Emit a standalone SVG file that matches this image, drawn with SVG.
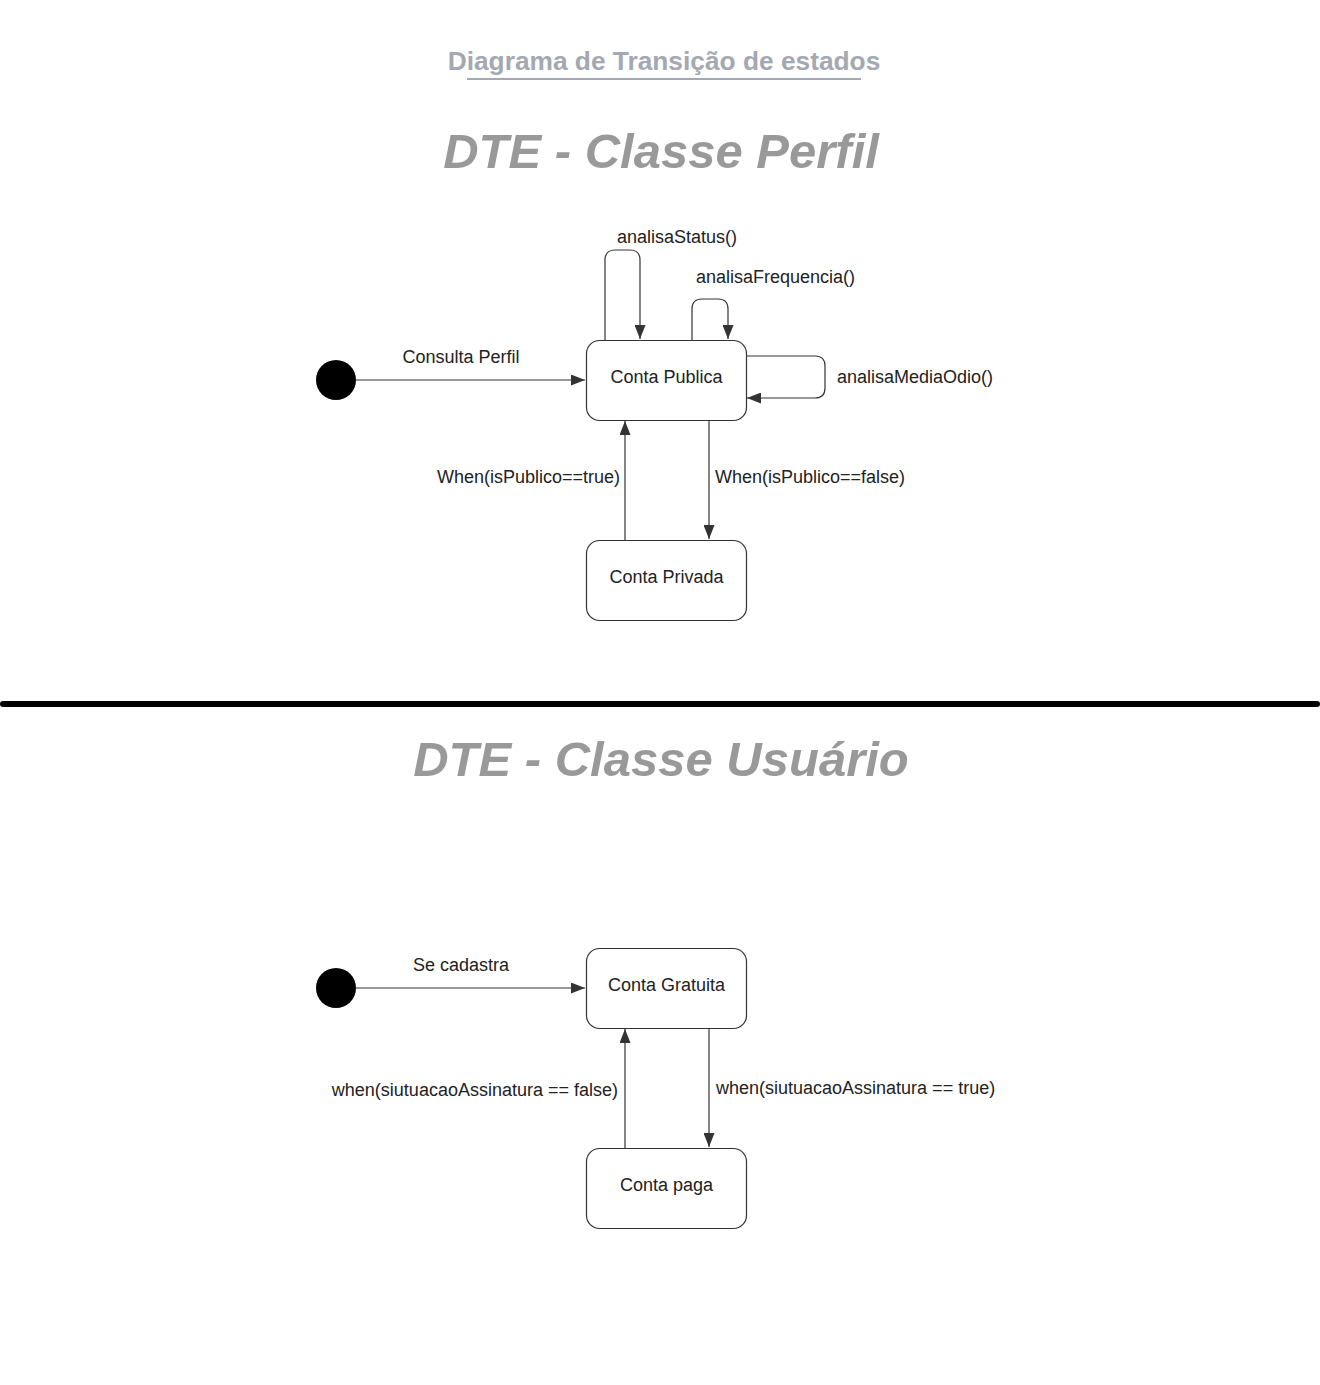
<svg xmlns="http://www.w3.org/2000/svg" width="1320" height="1385" viewBox="0 0 1320 1385">
<defs>
<marker id="arr" markerWidth="14" markerHeight="11" refX="14" refY="5.5" orient="auto" markerUnits="userSpaceOnUse">
<path d="M0,0 L14,5.5 L0,11 Z" fill="#333"/>
</marker>
<style>
.state{fill:#fff;stroke:#333;stroke-width:1.2}
.lbl{font-family:"Liberation Sans",Arial,sans-serif;font-size:18px;fill:#222}
.conn{fill:none;stroke:#333;stroke-width:1.2;marker-end:url(#arr)}
.big{font-family:"Liberation Sans",Arial,sans-serif;font-size:49px;font-weight:bold;font-style:italic;fill:#999;text-anchor:middle}
.init{fill:#000}
</style>
</defs>
<rect width="1320" height="1385" fill="#fff"/>
<text x="664" y="70" text-anchor="middle" style="font-family:'Liberation Sans',Arial,sans-serif;font-size:26.3px;font-weight:bold;fill:#a3a8b2">Diagrama de Transição de estados</text>
<line x1="467" y1="79" x2="861" y2="79" stroke="#a3a8b2" stroke-width="2"/>
<text class="big" x="661" y="168">DTE - Classe Perfil</text>
<text class="big" x="661" y="776">DTE - Classe Usuário</text>
<line x1="3" y1="704" x2="1317" y2="704" stroke="#000" stroke-width="6" stroke-linecap="round"/>

<g id="connectors">
<path class="conn" d="M356,380 L585,380"/>
<path class="conn" d="M605,340 L605,260 Q605,250 615,250 L630,250 Q640,250 640,260 L640,339"/>
<path class="conn" d="M692,340 L692,309 Q692,299 702,299 L718,299 Q728,299 728,309 L728,339"/>
<path class="conn" d="M746,356 L815,356 Q825,356 825,366 L825,388 Q825,398 815,398 L747,398"/>
<path class="conn" d="M625,540 L625,421"/>
<path class="conn" d="M709,420 L709,539"/>
<path class="conn" d="M356,988 L585,988"/>
<path class="conn" d="M625,1148 L625,1029"/>
<path class="conn" d="M709,1028 L709,1147"/>
<text class="lbl" x="461" y="363" text-anchor="middle">Consulta Perfil</text>
<text class="lbl" x="617" y="243">analisaStatus()</text>
<text class="lbl" x="696" y="283">analisaFrequencia()</text>
<text class="lbl" x="837" y="383">analisaMediaOdio()</text>
<text class="lbl" x="620" y="483" text-anchor="end">When(isPublico==true)</text>
<text class="lbl" x="715" y="483">When(isPublico==false)</text>
<text class="lbl" x="461" y="971" text-anchor="middle">Se cadastra</text>
<text class="lbl" x="618" y="1096" text-anchor="end">when(siutuacaoAssinatura == false)</text>
<text class="lbl" x="716" y="1094">when(siutuacaoAssinatura == true)</text>
</g>

<g id="init1"><circle class="init" cx="336" cy="380" r="20"/></g>
<g id="contaPublica"><rect class="state" x="586.5" y="340.5" width="160" height="80" rx="13"/><text class="lbl" x="666.5" y="383" text-anchor="middle">Conta Publica</text></g>
<g id="contaPrivada"><rect class="state" x="586.5" y="540.5" width="160" height="80" rx="13"/><text class="lbl" x="666.5" y="583" text-anchor="middle">Conta Privada</text></g>
<g id="init2"><circle class="init" cx="336" cy="988" r="20"/></g>
<g id="contaGratuita"><rect class="state" x="586.5" y="948.5" width="160" height="80" rx="13"/><text class="lbl" x="666.5" y="991" text-anchor="middle">Conta Gratuita</text></g>
<g id="contaPaga"><rect class="state" x="586.5" y="1148.5" width="160" height="80" rx="13"/><text class="lbl" x="666.5" y="1191" text-anchor="middle">Conta paga</text></g>
</svg>
